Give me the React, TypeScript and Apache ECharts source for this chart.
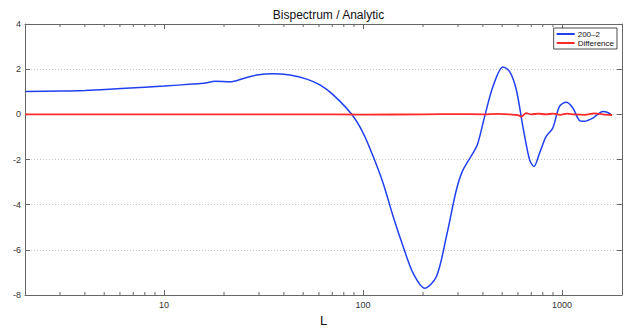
import React, { useEffect, useRef } from "react";
import * as echarts from "echarts";

// Blue curve "200–2": multipole L and value
const spectrumL = [2.01, 3, 4, 6.39, 10, 13.8, 16.1, 18.06, 21.5, 25.05, 29.2, 35.4, 42.9, 52.1, 60.7, 70.8, 87.6, 100.1, 112.4, 126.1, 141.6, 158.9, 178.3, 204.2, 233.7, 262.2, 294.4, 317.7, 356.5, 376.7, 408.3, 449.3, 504.2, 544.5, 588.7, 635.3, 686.5, 721.2, 770.2, 831.8, 897.5, 970, 1048, 1132, 1222, 1295, 1426, 1510, 1600, 1695, 1783];
const spectrumV = [1.01, 1.03, 1.06, 1.15, 1.25, 1.34, 1.39, 1.46, 1.44, 1.59, 1.74, 1.80, 1.74, 1.56, 1.30, 0.86, 0.0, -0.83, -1.87, -3.05, -4.52, -5.85, -7.03, -7.70, -7.18, -5.41, -3.34, -2.46, -1.72, -1.3, -0.09, 1.23, 2.10, 1.90, 1.09, -0.54, -2.01, -2.31, -1.72, -0.98, -0.61, 0.35, 0.53, 0.28, -0.27, -0.31, -0.17, 0.0, 0.12, 0.08, -0.05];

// Red curve "Difference"
const diffL = [2, 10, 50, 100, 200, 300, 400, 480, 540, 600, 624, 660, 700, 760, 830, 900, 980, 1060, 1150, 1300, 1450, 1600, 1783];
const diffV = [0, 0, 0, -0.01, 0.0, 0.01, 0.0, 0.02, 0.0, -0.04, -0.1, 0.05, 0.0, 0.03, 0.0, 0.03, -0.02, 0.03, 0.0, -0.02, 0.04, 0.0, -0.03];

const minorTicks = [3, 4, 5, 6, 7, 8, 9, 20, 30, 40, 50, 60, 70, 80, 90, 200, 300, 400, 500, 600, 700, 800, 900];

const seriesNames = ["200\u20132", "Difference"];

export default function App() {
  const ref = useRef<HTMLDivElement>(null);
  useEffect(() => {
    if (!ref.current) return;
    const chart = echarts.init(ref.current, null, { renderer: "svg" });
    const font = "Liberation Sans";
    const axisColor = "#666";
    const blue = spectrumL.map((l, i) => [l, spectrumV[i]]);
    const red = diffL.map((l, i) => [l, diffV[i]]);
    const xCommon = {
      type: "log" as const,
      logBase: 10,
      min: 2,
      max: 2000,
      axisLine: { show: true, onZero: false, lineStyle: { color: axisColor, width: 1 } },
      axisTick: { show: true, inside: true, length: 5, lineStyle: { color: axisColor } },
      splitLine: { show: false },
      minorTick: { show: false },
    };
    const yCommon = {
      type: "value" as const,
      min: -8,
      max: 4,
      interval: 2,
      axisLine: { show: true, onZero: false, lineStyle: { color: axisColor, width: 1 } },
      axisTick: { show: true, inside: true, length: 5, lineStyle: { color: axisColor } },
    };
    chart.setOption({
      animation: false,
      backgroundColor: "#fff",
      title: {
        text: "Bispectrum / Analytic",
        left: 323.5,
        top: 4,
        textAlign: "center",
        textStyle: { fontFamily: font, fontSize: 12, fontWeight: "normal", color: "#111" },
      },
      legend: {
        data: seriesNames,
        orient: "vertical",
        right: 16,
        top: 28,
        itemWidth: 18,
        itemHeight: 2,
        itemGap: 1,
        icon: "rect",
        padding: [2, 3, 2, 3],
        backgroundColor: "#fff",
        borderColor: "#222",
        borderWidth: 0.8,
        textStyle: { fontFamily: font, fontSize: 8, color: "#111", padding: [0, 0, 0, -2] },
      },
      grid: { left: 25, right: 11, top: 24, bottom: 37 },
      xAxis: [
        {
          ...xCommon,
          position: "bottom",
          name: "L",
          nameLocation: "middle",
          nameGap: 12,
          nameTextStyle: { fontFamily: font, fontSize: 13, color: "#111" },
          axisLabel: {
            fontFamily: font,
            fontSize: 9,
            color: "#333",
            margin: 5,
            showMinLabel: false,
            showMaxLabel: false,
            formatter: (v: number) => String(v),
          },
        },
        {
          ...xCommon,
          position: "top",
          axisLabel: { show: false },
        },
      ],
      yAxis: [
        {
          ...yCommon,
          position: "left",
          axisLabel: { fontFamily: font, fontSize: 9, color: "#333", margin: 4, formatter: (v: number) => String(v) },
          splitLine: { show: true, lineStyle: { color: "#c8c8c8", type: [1, 2], width: 1 } },
        },
        {
          ...yCommon,
          position: "right",
          axisLabel: { show: false },
          splitLine: { show: false },
        },
      ],
      series: [
        {
          name: seriesNames[0],
          type: "line",
          data: blue,
          symbol: "none",
          smooth: 0.3,
          lineStyle: { color: "#2040f0", width: 1.5 },
          itemStyle: { color: "#2040f0" },
          z: 3,
        },
        {
          name: seriesNames[1],
          type: "line",
          data: red,
          symbol: "none",
          smooth: 0.3,
          lineStyle: { color: "#ff2a2a", width: 1.8 },
          itemStyle: { color: "#ff2a2a" },
          z: 4,
        },
        {
          name: "minorTicks",
          type: "custom",
          silent: true,
          data: minorTicks.map((t) => [t, 0]),
          encode: { x: 0, y: 1 },
          renderItem: (params: any, api: any) => {
            const x = api.coord([api.value(0), 0])[0];
            const cs = params.coordSys;
            const style = { stroke: axisColor, lineWidth: 1 };
            return {
              type: "group",
              children: [
                { type: "line", shape: { x1: x, y1: cs.y + cs.height, x2: x, y2: cs.y + cs.height - 3 }, style },
                { type: "line", shape: { x1: x, y1: cs.y, x2: x, y2: cs.y + 3 }, style },
              ],
            };
          },
          z: 5,
        },
      ],
    });
    return () => chart.dispose();
  }, []);
  return <div ref={ref} style={{ position: "fixed", left: 0, top: 0, width: 633, height: 332 }} />;
}
